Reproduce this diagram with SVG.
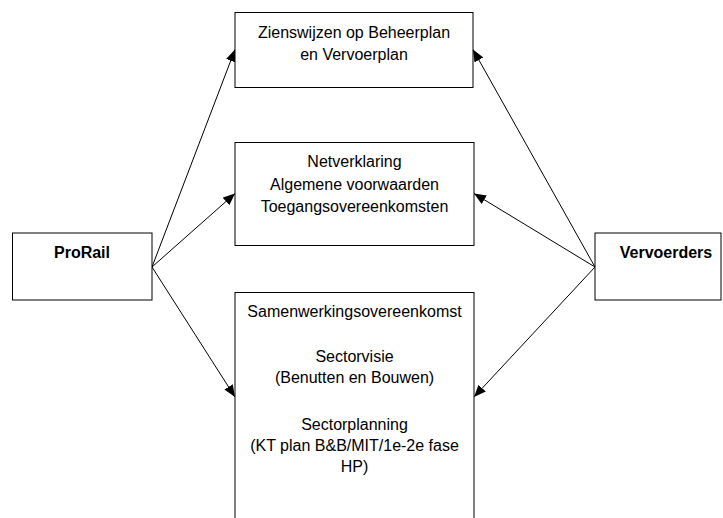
<svg xmlns="http://www.w3.org/2000/svg" width="723" height="518" viewBox="0 0 723 518">
<style>
.box{fill:#fff;stroke:#000;stroke-width:1}
.t{font-family:"Liberation Sans",Arial,sans-serif;font-size:16px;fill:#000;text-anchor:middle}
.b{font-weight:bold}
.c{stroke:#000;stroke-width:1;fill:none;marker-end:url(#arr)}
</style>
<defs>
<marker id="arr" viewBox="0 0 12 10" refX="12" refY="5" markerWidth="12" markerHeight="10" markerUnits="userSpaceOnUse" orient="auto">
<path d="M0,0 L12,5 L0,10 z" fill="#000"/>
</marker>
</defs>
<g id="connectors">
<line class="c" x1="152" y1="267" x2="235" y2="49.5"/>
<line class="c" x1="152" y1="267" x2="235" y2="193.5"/>
<line class="c" x1="152" y1="267" x2="235" y2="397"/>
<line class="c" x1="595" y1="267" x2="473" y2="49.5"/>
<line class="c" x1="595" y1="267" x2="474" y2="193.5"/>
<line class="c" x1="595" y1="267" x2="474" y2="397"/>
</g>
<g id="zienswijzen">
<rect class="box" x="235" y="12.5" width="238" height="75"/>
<text class="t" x="354" y="38">Zienswijzen op Beheerplan</text>
<text class="t" x="354" y="59.5">en Vervoerplan</text>
</g>
<g id="netverklaring">
<rect class="box" x="235" y="142.5" width="239" height="103"/>
<text class="t" x="354.5" y="167">Netverklaring</text>
<text class="t" x="354.5" y="189.5">Algemene voorwaarden</text>
<text class="t" x="354.5" y="211.5">Toegangsovereenkomsten</text>
</g>
<g id="samenwerking">
<rect class="box" x="235" y="292.5" width="239" height="240"/>
<text class="t" x="354.5" y="317">Samenwerkingsovereenkomst</text>
<text class="t" x="354.5" y="362">Sectorvisie</text>
<text class="t" x="354.5" y="383">(Benutten en Bouwen)</text>
<text class="t" x="354.5" y="430">Sectorplanning</text>
<text class="t" x="354.5" y="451">(KT plan B&amp;B/MIT/1e-2e fase</text>
<text class="t" x="354.5" y="472">HP)</text>
</g>
<g id="prorail">
<rect class="box" x="12.5" y="233" width="139.5" height="67"/>
<text class="t b" x="82" y="258">ProRail</text>
</g>
<g id="vervoerders">
<rect class="box" x="595" y="233" width="126" height="67"/>
<text class="t b" x="666" y="258">Vervoerders</text>
</g>
</svg>
